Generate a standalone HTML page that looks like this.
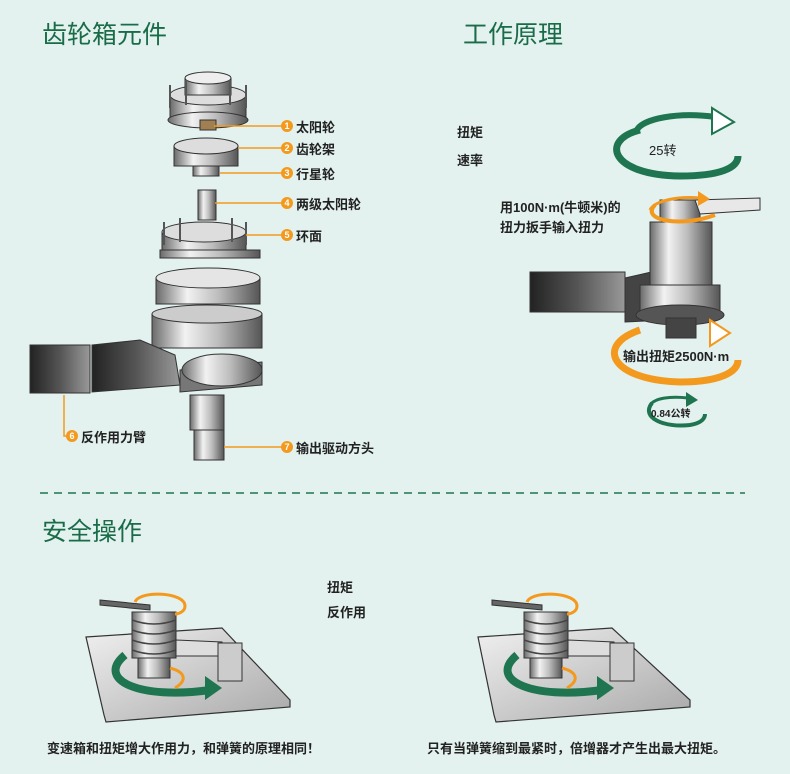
<!DOCTYPE html>
<html><head><meta charset="utf-8"><style>
html,body{margin:0;padding:0}
body{width:790px;height:774px;background:#e3f1ef;position:relative;overflow:hidden;font-family:"Liberation Sans","Noto Sans CJK SC",sans-serif}
.t{position:absolute;color:#1a6c48;font-size:25px;white-space:nowrap}
.l{position:absolute;font-size:13px;font-weight:bold;color:#222;white-space:nowrap}
svg{position:absolute;left:0;top:0}
</style></head><body>
<svg width="790" height="774" viewBox="0 0 790 774">
<defs>
<linearGradient id="m" x1="0" x2="1"><stop offset="0" stop-color="#6a6a6a"/><stop offset=".3" stop-color="#f2f2f2"/><stop offset=".6" stop-color="#bdbdbd"/><stop offset="1" stop-color="#555"/></linearGradient>
<linearGradient id="d" x1="0" x2="1"><stop offset="0" stop-color="#222"/><stop offset=".5" stop-color="#555"/><stop offset="1" stop-color="#999"/></linearGradient>
<linearGradient id="pl" x1="0" y1="0" x2="1" y2="1"><stop offset="0" stop-color="#f0f0f0"/><stop offset="1" stop-color="#a8a8a8"/></linearGradient>
</defs>
<g stroke="#333" stroke-width="1">
<rect x="170" y="95" width="76" height="25" fill="url(#m)"/><ellipse cx="208" cy="95" rx="38" ry="10" fill="#ddd"/>
<ellipse cx="208" cy="120" rx="40" ry="8" fill="url(#m)"/>
<rect x="185" y="78" width="46" height="17" fill="url(#m)"/><ellipse cx="208" cy="78" rx="23" ry="6" fill="#eee"/>
<rect x="200" y="120" width="16" height="10" fill="#a08050"/>
<rect x="174" y="146" width="64" height="20" fill="url(#m)"/><ellipse cx="206" cy="146" rx="32" ry="8" fill="#ddd"/>
<rect x="193" y="166" width="26" height="10" fill="url(#m)"/>
<rect x="198" y="190" width="18" height="30" fill="url(#m)"/>
<rect x="162" y="232" width="84" height="20" fill="url(#m)"/><ellipse cx="204" cy="232" rx="42" ry="10" fill="#ddd"/>
<rect x="160" y="250" width="100" height="8" fill="url(#m)"/>
<rect x="156" y="278" width="104" height="26" fill="url(#m)"/><ellipse cx="208" cy="278" rx="52" ry="10" fill="#e5e5e5"/>
<rect x="152" y="314" width="110" height="34" fill="url(#m)"/><ellipse cx="207" cy="314" rx="55" ry="9" fill="#ccc"/>
<path d="M180 370 L262 362 L262 385 L180 392 Z" fill="#777"/><ellipse cx="222" cy="370" rx="40" ry="16" fill="url(#m)"/>
<rect x="30" y="345" width="60" height="48" fill="url(#d)"/>
<path d="M92 345 L140 340 L175 355 L180 385 L92 392 Z" fill="url(#d)"/>
<rect x="190" y="395" width="34" height="35" fill="url(#m)"/>
<rect x="194" y="430" width="30" height="30" fill="url(#m)"/>
</g>
<g stroke="#555" stroke-width="2">
<line x1="170" y1="85" x2="170" y2="108"/><line x1="186" y1="80" x2="186" y2="105"/><line x1="230" y1="80" x2="230" y2="105"/><line x1="246" y1="85" x2="246" y2="108"/>
<line x1="164" y1="222" x2="164" y2="245"/><line x1="180" y1="218" x2="180" y2="242"/><line x1="232" y1="218" x2="232" y2="242"/><line x1="246" y1="222" x2="246" y2="245"/>
</g>
<g stroke="#f39a1e" stroke-width="1.5" fill="none">
<path d="M214 126 H287"/><path d="M238 148 H287"/><path d="M220 173 H287"/><path d="M215 203 H287"/><path d="M246 235 H287"/>
<path d="M64 395 V436 H70"/><path d="M224 447 H287"/>
</g>
<g fill="#f39a1e">
<circle cx="287" cy="126" r="6"/><circle cx="287" cy="148" r="6"/><circle cx="287" cy="173" r="6"/><circle cx="287" cy="203" r="6"/><circle cx="287" cy="235" r="6"/><circle cx="72" cy="436" r="6"/><circle cx="287" cy="447" r="6"/>
</g>
<g fill="#fff" font-size="9" font-weight="bold" text-anchor="middle" font-family="Liberation Sans">
<text x="287" y="129">1</text><text x="287" y="151">2</text><text x="287" y="176">3</text><text x="287" y="206">4</text><text x="287" y="238">5</text><text x="72" y="439">6</text><text x="287" y="450">7</text>
</g>
<path d="M640 130 C600 140 610 175 680 176 C720 176 738 168 738 156" stroke="#1f7550" stroke-width="7" fill="none"/>
<path d="M636 132 C640 118 680 112 715 117" stroke="#1f7550" stroke-width="6" fill="none"/>
<path d="M712 108 L734 122 L712 134 Z" fill="#fff" stroke="#1f7550" stroke-width="2"/>
<g stroke="#333">
<rect x="530" y="272" width="95" height="40" fill="url(#d)"/>
<path d="M625 278 L660 270 L665 320 L625 322 Z" fill="#444"/>
<rect x="650" y="222" width="62" height="90" fill="url(#m)"/>
<rect x="640" y="285" width="80" height="28" fill="url(#m)"/><ellipse cx="680" cy="315" rx="44" ry="10" fill="#555"/>
<rect x="666" y="318" width="30" height="20" fill="#444"/>
<rect x="660" y="200" width="40" height="20" fill="url(#m)"/>
<path d="M695 200 L760 198 L760 210 L700 214 Z" fill="#e8e8e8"/>
</g>
<path d="M655 205 C640 220 680 228 715 215" stroke="#f39a1e" stroke-width="4" fill="none"/>
<path d="M650 210 C655 200 680 196 700 198" stroke="#f39a1e" stroke-width="3" fill="none"/><path d="M698 191 L710 199 L698 206Z" fill="#f39a1e"/>
<path d="M640 330 C595 345 610 380 680 382 C720 382 738 372 738 360" stroke="#f39a1e" stroke-width="7" fill="none"/>
<path d="M710 320 L730 333 L710 346 Z" fill="#fff" stroke="#f39a1e" stroke-width="2"/>
<path d="M652 403 C640 418 665 428 690 425 C702 423 705 418 705 414" stroke="#1f7550" stroke-width="4" fill="none"/>
<path d="M650 405 C655 398 670 396 688 398" stroke="#1f7550" stroke-width="3" fill="none"/><path d="M686 392 L698 400 L686 407Z" fill="#1f7550"/>
<line x1="40" y1="493" x2="745" y2="493" stroke="#1f7550" stroke-width="1.5" stroke-dasharray="8,6"/>
<g stroke="#333" stroke-width="1.2">
<path d="M86 637 L222 628 L290 700 L290 707 L106 722 L104 715 Z" fill="url(#pl)"/>
<path d="M478 637 L612 628 L690 700 L690 707 L496 722 L494 715 Z" fill="url(#pl)"/>
</g>
<g id="dev" stroke="#333">
<rect x="132" y="612" width="44" height="46" fill="url(#m)"/>
<g fill="none" stroke="#444" stroke-width="1.5"><path d="M132 620 Q154 628 176 620"/><path d="M132 630 Q154 638 176 630"/><path d="M132 640 Q154 648 176 640"/><path d="M132 650 Q154 658 176 650"/></g>
<rect x="138" y="658" width="32" height="20" fill="url(#m)"/>
<path d="M176 640 L222 642 L222 656 L176 656 Z" fill="#ddd"/>
<rect x="218" y="643" width="24" height="38" fill="#ccc"/>
<path d="M100 600 L150 605 L150 610 L100 605 Z" fill="#666"/>
</g>
<use href="#dev" x="392"/>
<g fill="none" stroke-width="8">
<path d="M125 655 C95 680 140 700 210 690" stroke="#1f7550"/>
<path d="M517 655 C487 680 532 700 602 690" stroke="#1f7550"/>
</g>
<path d="M205 676 L222 688 L205 700Z" fill="#1f7550"/><path d="M597 676 L614 688 L597 700Z" fill="#1f7550"/>
<g fill="none" stroke="#f39a1e" stroke-width="3">
<path d="M135 602 C140 590 185 592 185 606 C185 612 178 614 175 614"/>
<path d="M527 602 C532 590 577 592 577 606 C577 612 570 614 567 614"/>
<path d="M170 668 C185 672 188 680 175 688"/><path d="M562 668 C577 672 580 680 567 688"/>
</g>
</svg>
<div class="t" style="left:42px;top:15px">齿轮箱元件</div>
<div class="t" style="left:463px;top:15px">工作原理</div>
<div class="t" style="left:42px;top:512px">安全操作</div>
<div class="l" style="left:296px;top:117px">太阳轮</div>
<div class="l" style="left:296px;top:139px">齿轮架</div>
<div class="l" style="left:296px;top:164px">行星轮</div>
<div class="l" style="left:296px;top:194px">两级太阳轮</div>
<div class="l" style="left:296px;top:226px">环面</div>
<div class="l" style="left:81px;top:427px">反作用力臂</div>
<div class="l" style="left:296px;top:438px">输出驱动方头</div>
<div class="l" style="left:457px;top:122px">扭矩</div>
<div class="l" style="left:457px;top:150px">速率</div>
<div class="l" style="left:649px;top:140px;font-weight:normal">25转</div>
<div class="l" style="left:500px;top:197px">用100N·m(牛顿米)的</div>
<div class="l" style="left:500px;top:217px">扭力扳手输入扭力</div>
<div class="l" style="left:623px;top:346px">输出扭矩2500N·m</div>
<div class="l" style="left:651px;top:405px;font-size:10px">0.84公转</div>
<div class="l" style="left:327px;top:577px">扭矩</div>
<div class="l" style="left:327px;top:602px">反作用</div>
<div class="l" style="left:47px;top:738px">变速箱和扭矩增大作用力，和弹簧的原理相同！</div>
<div class="l" style="left:427px;top:738px">只有当弹簧缩到最紧时，倍增器才产生出最大扭矩。</div>
</body></html>
